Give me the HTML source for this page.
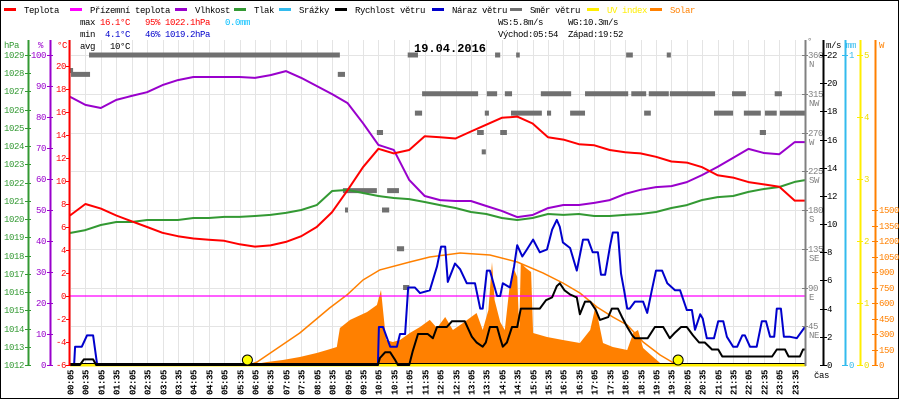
<!DOCTYPE html>
<html><head><meta charset="utf-8">
<style>
html,body{margin:0;padding:0;background:#fff;}
svg{display:block;font-family:"Liberation Mono",monospace;}
.t{font-size:9px;letter-spacing:-0.4px;}
</style></head>
<body>
<svg id="chart" width="900" height="400" viewBox="0 0 900 400" xmlns="http://www.w3.org/2000/svg">
<rect x="0.5" y="0.5" width="898" height="398" fill="#fff" stroke="#000"/>
<g id="grid"></g>
<g id="marks"></g>
<g id="axes"></g>
<g id="legend"></g>
<g class="t">
<text x="80" y="25">max</text>
<text x="100" y="25" fill="#f00">16.1°C</text>
<text x="145" y="25" fill="#f00">95%</text>
<text x="165" y="25" fill="#f00">1022.1hPa</text>
<text x="225" y="25" fill="#00bfff">0.0mm</text>
<text x="80" y="37">min</text>
<text x="105" y="37" fill="#00c">4.1°C</text>
<text x="145" y="37" fill="#00c">46%</text>
<text x="165" y="37" fill="#00c">1019.2hPa</text>
<text x="80" y="49">avg</text>
<text x="110" y="49">10°C</text>
<text x="498" y="25">WS:5.8m/s</text>
<text x="568" y="25">WG:10.3m/s</text>
<text x="498" y="37">Východ:05:54</text>
<text x="568" y="37">Západ:19:52</text>
</g>
<text x="414" y="52" font-size="12" font-weight="bold">19.04.2016</text>
</svg>
<script>
// ---- data ----
const halfHourLabels = ["00:05","00:35","01:05","01:35","02:05","02:35","03:05","03:35","04:05","04:35","05:05","05:35","06:05","06:35","07:05","07:35","08:05","08:35","09:05","09:35","10:05","10:35","11:05","11:35","12:05","12:35","13:05","13:35","14:05","14:35","15:05","15:35","16:05","16:35","17:05","17:35","18:05","18:35","19:05","19:35","20:05","20:35","21:05","21:35","22:05","22:35","23:05","23:35"];
const temperature = [7.0,8.0,7.6,7.0,6.5,6.0,5.5,5.2,5.0,4.9,4.8,4.5,4.3,4.4,4.7,5.2,6.0,7.3,9.2,11.2,12.8,12.4,12.7,13.9,13.8,13.7,14.3,14.9,15.5,15.6,15.0,13.8,13.6,13.2,13.1,12.7,12.5,12.4,12.1,11.7,11.6,11.2,10.5,10.3,9.9,9.7,9.5,8.3];
const humidity = [86.5,83.9,82.9,85.5,86.8,88,90.3,91.9,92.9,92.9,92.9,92.9,92.6,93.5,94.8,92.6,90,87.4,84.5,78,71,69.4,59.7,54.5,53.2,52.9,52.9,51.3,49.7,47.7,48.4,50.6,51.6,51.6,52.3,53.2,55.2,56.5,57.4,57.7,59,61.3,63.9,66.8,69.7,68.4,68,71.9];
const pressure = [1019.24,1019.40,1019.68,1019.84,1019.84,1019.95,1019.95,1019.95,1020.06,1020.06,1020.12,1020.12,1020.17,1020.23,1020.34,1020.50,1020.77,1021.54,1021.60,1021.43,1021.27,1021.16,1021.10,1020.94,1020.77,1020.61,1020.39,1020.28,1020.06,1019.95,1020.06,1020.28,1020.23,1020.28,1020.17,1020.17,1020.23,1020.28,1020.39,1020.61,1020.77,1021.05,1021.21,1021.27,1021.49,1021.65,1021.76,1022.04];
const groundTemp = [0,0];
const groundTempTimes = [5,1440];
const gustTimes = [5,13,15,28,38,50,58,604,606,614,628,641,647,657,663,676,686,705,719,727,735,740,754,764,777,793,803,808,816,822,836,842,847,861,869,875,885,894,906,919,933,943,952,958,964,978,991,1003,1013,1022,1032,1038,1046,1056,1061,1071,1077,1083,1089,1094,1104,1120,1128,1137,1145,1157,1167,1182,1192,1205,1215,1221,1231,1236,1244,1258,1266,1276,1283,1295,1303,1313,1318,1328,1341,1351,1359,1367,1375,1380,1388,1394,1406,1419,1437];
const gustValues = [0,0,1.3,1.3,2.1,2.1,0,0,2.7,2.7,1.3,1.3,2.2,2.2,5.5,5.5,5.1,5.3,7.0,8.4,8.4,5.9,7.2,6.8,5.8,5.8,4.0,4.0,6.7,6.7,4.9,4.9,5.8,5.5,7.0,8.5,7.7,8.2,8.9,8.0,8.2,9.6,10.3,9.8,8.7,8.3,6.7,8.9,8.9,8.0,8.0,6.4,6.4,8.5,9.4,9.4,6.5,5.3,4.0,4.0,4.5,4.5,3.7,5.3,6.7,6.7,5.8,5.3,5.3,3.9,3.9,2.5,3.6,3.3,1.9,1.9,3.1,3.1,2.0,1.3,1.3,2.1,2.1,1.3,1.3,3.1,3.1,2.0,2.0,4.0,4.0,2.0,2.0,1.9,2.8];
const windTimes = [5,24,32,36,50,56,604,608,618,628,637,643,665,672,682,701,711,719,738,748,773,787,796,808,814,822,836,842,847,855,865,875,882,919,931,943,952,958,967,978,991,997,1007,1017,1028,1036,1052,1059,1071,1079,1089,1099,1104,1129,1143,1159,1172,1182,1194,1205,1217,1229,1240,1254,1266,1274,1371,1380,1396,1403,1425,1431,1437];
const windValues = [0,0,0.4,0.4,0.4,0,0,0.5,0.9,0.9,0.4,0,0,1.0,2.2,2.2,1.9,2.7,2.7,3.1,3.1,2.0,1.6,1.3,1.6,2.7,2.7,1.9,1.3,1.6,2.7,2.7,4.0,4.0,4.6,4.8,5.6,5.8,5.3,5.0,4.8,3.6,4.5,4.5,3.9,3.2,3.4,4.0,4.0,3.4,2.7,2.1,1.9,1.9,2.7,2.7,1.9,2.3,2.7,2.7,2.1,1.6,1.6,1.1,1.1,0.6,0.6,1.1,1.1,0.6,0.6,1.1,1.1];
const solarTimes = [355,388,419,452,485,505,524,530,550,583,602,610,614,620,633,647,666,686,705,719,735,750,770,796,808,819,826,831,842,851,861,867,875,879,882,892,902,906,933,964,997,1017,1028,1034,1042,1061,1089,1101,1110,1120,1133,1153,1186];
const solarValues = [0,29,48,77,116,145,174,358,436,513,581,726,532,242,223,242,310,368,436,358,465,339,407,503,339,532,997,629,416,339,794,949,852,339,987,939,900,310,271,242,213,339,581,407,213,174,145,310,339,165,106,19,0];
const clearSkyTimes = [355,369,452,510,544,575,608,666,705,764,822,875,925,964,997,1030,1061,1089,1120,1153,1186];
const clearSkyValues = [0,29,310,552,678,823,920,997,1045,1084,1065,997,891,794,697,561,465,387,223,97,0];
const dirStart = ["00:05","00:07","00:42","08:46","08:56","09:00","10:02","10:12","10:22","10:41","10:53","11:02","11:16","11:30","13:17","13:26","13:32","13:36","13:52","14:02","14:11","14:23","14:33","15:21","15:33","16:18","16:47","18:07","18:17","18:42","18:51","19:26","19:32","20:58","21:33","21:56","22:27","22:37","22:56","23:06"];
const dirEnd   = ["00:11","00:44","08:50","09:00","10:02","09:04","10:14","10:26","10:45","10:55","11:05","11:22","11:30","13:19","13:30","13:34","13:40","13:56","14:02","14:15","14:25","15:23","14:40","16:20","15:41","16:47","18:11","18:20","18:46","18:55","19:30","19:34","21:00","21:35","22:00","22:29","22:39","23:00","23:10","23:55"];
const dirDeg   = [342,337.5,360,337.5,202.5,180,270,180,202.5,135,90,360,292.5,315,270,247.5,292.5,315,360,270,315,292.5,360,315,292.5,292.5,315,360,315,292.5,315,360,315,292.5,315,292.5,270,292.5,315,292.5];
const sunEvents = ["05:54","19:52"];
const hPaTicks = [1012,1013,1014,1015,1016,1017,1018,1019,1020,1021,1022,1023,1024,1025,1026,1027,1028,1029];
const pctTicks = [0,10,20,30,40,50,60,70,80,90,100];
const tempTicks = [-6,-4,-2,0,2,4,6,8,10,12,14,16,18,20];
const degTicks = [45,90,135,180,225,270,315,360];
const degNames = ["NE","E","SE","S","SW","W","NW","N"];
const msTicks = [0,2,4,6,8,10,12,14,16,18,20,22];
const uvTicks = [0,1,2,3,4,5];
const wTicks = [0,150,300,450,600,750,900,1050,1200,1350,1500];

// ---- scales ----
const X0=70, X1=806, YT=55, YB=365;
const xT = m => X0 + (m-5)*0.514;
const xI = i => xT(5+30*i);
const yTemp = v => 296 - v*11.5;
const yPct = v => YB - v*3.1;
const yHpa = v => YB - (v-1012)*(YB-YT)/17;
const yDeg = v => YB - v*(YB-YT)/360;
const yMs = v => YB - v*(YB-YT)/22;
const yUv = v => YB - v*(YB-YT)/5;
const yW = v => YB - v*0.10333;
const hm = s => { const p=s.split(":"); return (+p[0])*60+(+p[1]); };

const NS="http://www.w3.org/2000/svg";
function mk(tag, parent, attrs){ const e=document.createElementNS(NS,tag); for(const k in attrs) e.setAttribute(k,attrs[k]); parent.appendChild(e); return e; }
const grid=document.getElementById('grid'), marks=document.getElementById('marks'), axes=document.getElementById('axes'), legend=document.getElementById('legend');

// grid
halfHourLabels.forEach((lab,i)=>{
  const x=Math.round(xI(i))+0.5;
  const g=mk('line',grid,{x1:x,x2:x,y1:40,y2:YB,stroke:'#e4e4e4','stroke-width':1});
  
  
  const t=mk('text',axes,{x:x+3,y:370,transform:`rotate(-90 ${x+3} 370)`,'text-anchor':'end','font-size':9,'font-weight':'bold','letter-spacing':'-0.4'});
  t.textContent=lab;
  
  
});
degTicks.forEach(d=>{
  const y=Math.round(yDeg(d))+0.5;
  const g=mk('line',grid,{x1:X0,x2:X1,y1:y,y2:y,stroke:'#e4e4e4','stroke-width':1});
  
  
});

function poly(xs, ys, color, w, name){
  const pts=xs.map((x,i)=>x.toFixed(1)+','+ys[i].toFixed(1)).join(' ');
  const p=mk('polyline',marks,{points:pts,fill:'none',stroke:color,'stroke-width':w,'stroke-linejoin':'round'});
  
  
  return p;
}
// solar area
{
  const xs=solarTimes.map(xT), ys=solarValues.map(yW);
  let d='M'+xs[0].toFixed(1)+','+YB;
  xs.forEach((x,i)=>{ d+=' L'+x.toFixed(1)+','+ys[i].toFixed(1); });
  d+=' L'+xs[xs.length-1].toFixed(1)+','+YB+' Z';
  const a=mk('path',marks,{d:d,fill:'#ff8000'});
  
  
}
poly(clearSkyTimes.map(xT), clearSkyValues.map(yW), '#ff8000', 1.5, 'clear-sky-solar-line');
// wind direction
dirDeg.forEach((d,i)=>{
  const x1=xT(hm(dirStart[i])), x2=xT(hm(dirEnd[i]));
  const r=mk('rect',marks,{x:x1,y:yDeg(d)-2.5,width:Math.max(3,x2-x1),height:5,fill:'#707070'});
  
  
});
// ground temp / zero line
poly(groundTempTimes.map(t=>Math.min(X1,xT(t))), groundTemp.map(yTemp), '#ff00ff', 1.2, 'ground-temperature-line');
// pressure, humidity, temperature
const halfX = temperature.map((v,i)=>xI(i)).concat([X1-1]);
poly(halfX, pressure.concat([pressure[pressure.length-1]+0.1]).map(yHpa), '#339933', 2, 'pressure-line');
poly(halfX, humidity.concat([humidity[humidity.length-1]]).map(yPct), '#9900cc', 2, 'humidity-line');
poly(halfX, temperature.concat([temperature[temperature.length-1]]).map(yTemp), '#ff0000', 2, 'temperature-line');
// UV baseline
{
  const u=mk('line',marks,{x1:X0,x2:X1,y1:YB,y2:YB,stroke:'#ffee00','stroke-width':3});
  
  
}
poly(gustTimes.map(xT), gustValues.map(yMs), '#0000cc', 2, 'wind-gust-line');
poly([X0].concat(windTimes.map(xT)), [0].concat(windValues).map(yMs), '#000000', 2, 'wind-speed-line');
{
  const b=mk('line',marks,{x1:X0,x2:X1,y1:YB-1.5,y2:YB-1.5,stroke:'#000','stroke-width':1});
  
  
}
sunEvents.forEach(s=>{
  const c=mk('circle',marks,{cx:xT(hm(s))-2,cy:YB-5,r:5,fill:'#ffff00',stroke:'#000','stroke-width':1});
  
  
});

// axes
function vaxis(x,color,y1,name){
  const l=mk('line',axes,{x1:x+0.5,x2:x+0.5,y1:y1,y2:YB+1,stroke:color,'stroke-width':2});
  
  
}
function tlabel(x,y,txt,color,anchor,name){
  const t=mk('text',axes,{x:x,y:y,fill:color,'text-anchor':anchor,'font-size':9,'letter-spacing':'-0.4'});
  t.textContent=txt;
  
  
}
function tick(x1,x2,y,color){
  const l=mk('line',axes,{x1:x1,x2:x2,y1:y+0.5,y2:y+0.5,stroke:color,'stroke-width':1});
  
  
}
vaxis(28,'#339933',40,'pressure-axis');
hPaTicks.forEach(v=>{const y=Math.round(yHpa(v)); tick(25,31,y,'#339933'); tlabel(24,y+3,String(v),'#339933','end','pressure-tick-label');});
vaxis(50,'#9900cc',40,'humidity-axis');
pctTicks.forEach(v=>{const y=Math.round(yPct(v)); tick(47,53,y,'#9900cc'); tlabel(46,y+3,String(v),'#9900cc','end','humidity-tick-label');});
vaxis(69,'#ff0000',40,'temperature-axis');
tempTicks.forEach(v=>{const y=Math.round(yTemp(v)); tick(66,70,y,'#ff0000'); tlabel(66,y+3,String(v),'#ff0000','end','temperature-tick-label');});
vaxis(805,'#808080',40,'wind-direction-axis');
degTicks.forEach((v,i)=>{const y=Math.round(yDeg(v)); tick(802,808,y,'#808080'); tlabel(808,y+3,String(v),'#808080','start','direction-tick-label'); tlabel(809,y+12,degNames[i],'#808080','start','direction-name-label');});
vaxis(823,'#000000',40,'wind-speed-axis');
msTicks.forEach(v=>{const y=Math.round(yMs(v)); tick(820,827,y,'#000'); tlabel(827,y+3,String(v),'#000','start','wind-speed-tick-label');});
vaxis(845,'#33bbee',40,'rain-axis');
[0,1].forEach(v=>{const y=v?YT:YB; tick(842,848,y,'#33bbee'); tlabel(849,y+3,String(v),'#33bbee','start','rain-tick-label');});
vaxis(860,'#ffee00',40,'uv-axis');
uvTicks.forEach(v=>{const y=Math.round(yUv(v)); tick(857,863,y,'#ffee00'); tlabel(864,y+3,String(v),'#eedd00','start','uv-tick-label');});
vaxis(875,'#ff8000',40,'solar-axis');
wTicks.forEach(v=>{const y=Math.round(yW(v)); tick(872,878,y,'#ff8000'); tlabel(879,y+3,String(v),'#ff8000','start','solar-tick-label');});
tlabel(4,48,'hPa','#339933','start','pressure-axis-title');
tlabel(38,48,'%','#9900cc','start','humidity-axis-title');
tlabel(57,48,'°C','#ff0000','start','temperature-axis-title');
tlabel(807,44,'°','#808080','start','direction-axis-title');
tlabel(826,48,'m/s','#000','start','wind-speed-axis-title');
tlabel(846,48,'mm','#33bbee','start','rain-axis-title');
tlabel(879,48,'W','#ff8000','start','solar-axis-title');
tlabel(814,378,'čas','#000','start','x-axis-title');

// legend
const legNames=["Teplota","Přízemní teplota","Vlhkost","Tlak","Srážky","Rychlost větru","Náraz větru","Směr větru","UV index","Solar"];
const legColors=["#ff0000","#ff00ff","#9900cc","#339933","#33bbee","#000000","#0000cc","#707070","#ffee00","#ff8000"];
const legX=[4,70,175,234,279,335,432,510,587,650];
legNames.forEach((n,i)=>{
  const l=mk('line',legend,{x1:legX[i],x2:legX[i]+12,y1:9.5,y2:9.5,stroke:legColors[i],'stroke-width':3});
  
  
  const t=mk('text',legend,{x:legX[i]+20,y:13,fill:(i>=8?legColors[i]:'#000'),'font-size':9,'letter-spacing':'-0.4'});
  t.textContent=n;
  
  
});
</script>
</body></html>
